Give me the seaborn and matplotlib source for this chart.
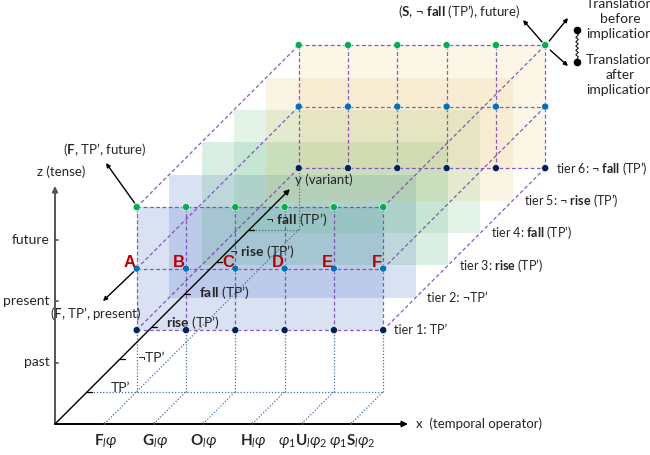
import numpy as np
import pandas as pd
import matplotlib
matplotlib.use("Agg")
import matplotlib.pyplot as plt
import seaborn as sns

# =====================================================
# DATA
# =====================================================

operator_labels = [
    r"$\mathbf{F}_{\mathit{l}}\varphi$",
    r"$\mathbf{G}_{\mathit{l}}\varphi$",
    r"$\mathbf{O}_{\mathit{l}}\varphi$",
    r"$\mathbf{H}_{\mathit{l}}\varphi$",
    r"$\varphi_1\mathbf{U}_{\mathit{l}}\varphi_2$",
    r"$\varphi_1\mathbf{S}_{\mathit{l}}\varphi_2$",
]
point_letters = ["A", "B", "C", "D", "E", "F"]
tenses = ["past", "present", "future"]
variant_labels = [
    "TP’",
    "¬TP’",
    r"$\mathbf{rise}$ (TP’)",
    r"$\mathbf{fall}$ (TP’)",
    r"¬ $\mathbf{rise}$ (TP’)",
    r"¬ $\mathbf{fall}$ (TP’)",
]
tier_labels = [
    "tier 1: TP’",
    "tier 2: ¬TP’",
    r"tier 3: $\mathbf{rise}$ (TP’)",
    r"tier 4: $\mathbf{fall}$ (TP’)",
    r"tier 5: ¬ $\mathbf{rise}$ (TP’)",
    r"tier 6: ¬ $\mathbf{fall}$ (TP’)",
]
face_depths = [1, 6]  # tiers that carry the dots (front and back face)

tense_colors = {"past": "#002060", "present": "#0070c0", "future": "#00b050"}
tier_colors = ["#4472c4", "#4472c4", "#4fae7a", "#6cbf84", "#e3bb4a", "#f2d48a"]
tier_alpha = [0.2, 0.2, 0.2, 0.18, 0.15, 0.2]

# label nudges next to the variant axis (pixels)
variant_nudge = [(23, -4), (18, -1), (14, -4), (14, -2), (12, -10), (16, -10)]

# =====================================================
# OBLIQUE PROJECTION (x = operator, d = variant, z = tense)
# =====================================================

X0, Y0 = 55, 424
UX, UZ, DEP = 49.3, 61.5, 32.4


def proj(x, d, z):
    x = np.asarray(x, dtype=float)
    d = np.asarray(d, dtype=float)
    z = np.asarray(z, dtype=float)
    return X0 + UX * x + DEP * d, Y0 - UZ * z - DEP * d


sns.set_theme(style="white")
plt.rcParams["font.family"] = ["Lato", "DejaVu Sans"]
plt.rcParams["mathtext.fontset"] = "custom"
plt.rcParams["mathtext.rm"] = "Lato"
plt.rcParams["mathtext.it"] = "Lato:italic"
plt.rcParams["mathtext.bf"] = "Lato:bold"

fig = plt.figure(figsize=(6.5, 4.55), dpi=100)
ax = fig.add_axes([0, 0, 1, 1])
ax.set_xlim(0, 650)
ax.set_ylim(455, 0)
ax.axis("off")

n_x = len(operator_labels)
n_d = len(variant_labels)
n_z = len(tenses)
cols = np.arange(1, n_x + 1)

FS = 9.5
purple = "#7b3bb8"
dotted_blue = "#4a6fa8"

# ---------- tier shading ----------
for i in range(n_d):
    d = i + 1
    xa, ya = proj([1, n_x, n_x, 1], [d] * 4, [1, 1, n_z, n_z])
    ax.fill(xa, ya, color=tier_colors[i], alpha=tier_alpha[i], lw=0, zorder=1)

# ---------- purple dashed cube grid ----------
dash = dict(color=purple, lw=0.9, ls=(0, (3, 2)), alpha=0.85, zorder=3)
for d in face_depths:
    for z in range(1, n_z + 1):
        ax.plot(*proj([1, n_x], [d, d], [z, z]), **dash)
    for c in cols:
        ax.plot(*proj([c, c], [d, d], [1, n_z]), **dash)
for c in [1, n_x]:
    for z in range(1, n_z + 1):
        ax.plot(*proj([c, c], face_depths, [z, z]), **dash)

# ---------- blue dotted projection lines ----------
dots = dict(color=dotted_blue, lw=0.9, ls=(0, (1, 1.5)), zorder=2)
front, back = face_depths
for c in cols:
    ax.plot(*proj([c, c], [front, front], [0, 1]), **dots)
    ax.plot(*proj([c, c], [0, front], [0, 0]), **dots)
ax.plot(*proj([0, n_x], [front, front], [0, 0]), **dots)
ax.plot(*proj([1, 1], [front, back], [0, 0]), **dots)
ax.plot(*proj([0, 1], [back, back], [0, 0]), **dots)
ax.plot(*proj([1, 1], [back, back], [0, 1]), **dots)

# ---------- axes ----------
arrow_kw = dict(arrowstyle="-|>", mutation_scale=8, lw=1.4, shrinkA=0, shrinkB=0)
ox, oy = proj(0, 0, 0)
ax.annotate("", xy=(ox, oy - 238), xytext=(ox, oy),
            arrowprops=dict(color="#555555", **arrow_kw), zorder=4)
ax.annotate("", xy=(ox + 353, oy), xytext=(ox, oy),
            arrowprops=dict(color="black", **arrow_kw), zorder=4)
yx, yy = proj(0, 7.25, 0)
ax.annotate("", xy=(yx, yy), xytext=(ox, oy),
            arrowprops=dict(color="black", arrowstyle="-|>", mutation_scale=8,
                            lw=1.0, shrinkA=0, shrinkB=0), zorder=4)

# z ticks
for k, t in enumerate(tenses):
    tx, ty = proj(0, 0, k + 1)
    ax.plot([tx, tx + 3], [ty, ty], color="#555555", lw=1.2, zorder=4)
    ax.text(tx - 5, ty, t, ha="right", va="center", fontsize=FS + 0.5)

# x ticks
for c, lab in zip(cols, operator_labels):
    tx, ty = proj(c, 0, 0)
    ax.plot([tx, tx], [ty, ty - 2.5], color="#555555", lw=0.8, zorder=4)
    ax.text(tx + 1, ty + 17, lab, ha="center", va="center", fontsize=11)

# variant ticks
for k, lab in enumerate(variant_labels):
    tx, ty = proj(0, k + 1, 0)
    ax.plot([tx, tx + 5], [ty, ty], color="black", lw=0.9, zorder=4)
    nx, ny = variant_nudge[k]
    ax.text(tx + nx, ty + ny, lab, ha="left", va="center", fontsize=FS + 0.5, zorder=5)

ax.text(ox - 18, oy - 252, "z (tense)", ha="left", va="center", fontsize=FS)
ax.text(ox + 361, oy, "x  (temporal operator)", ha="left", va="center", fontsize=FS)
ax.text(yx + 5, yy - 9, "y (variant)", ha="left", va="center", fontsize=FS)

# ---------- grid points ----------
rows = []
for d in face_depths:
    for k, t in enumerate(tenses):
        for c in cols:
            sx, sy = proj(c, d, k + 1)
            rows.append({"sx": float(sx), "sy": float(sy), "tense": t})
pts = pd.DataFrame(rows)
sns.scatterplot(data=pts, x="sx", y="sy", hue="tense", palette=tense_colors,
                s=26, linewidth=0.4, edgecolor="white", legend=False, ax=ax,
                zorder=6)

# red letters on the present row of the front face
for c, letter in zip(cols, point_letters):
    px, py = proj(c, front, 2)
    ax.text(px - 1, py - 6, letter, ha="right", va="center", fontsize=12,
            fontweight="bold", color="#c00000", family="Liberation Sans", zorder=7)

# tier labels
for k, lab in enumerate(tier_labels):
    tx, ty = proj(n_x, k + 1, 1)
    ax.text(tx + 11, ty, lab, ha="left", va="center", fontsize=9)

# ---------- annotations ----------
small_arrow = dict(arrowstyle="-|>", mutation_scale=6, lw=1.0, color="black",
                   shrinkA=0, shrinkB=0)
ax.text(105, 150, r"($\mathbf{F}$, TP’, future)", ha="center", va="center", fontsize=FS)
fx, fy = proj(1, front, 3)
ax.annotate("", xy=(106, 163), xytext=(fx - 2, fy - 4), arrowprops=small_arrow)

ax.text(96, 313, r"($\mathbf{F}$, TP’, present)", ha="center", va="center", fontsize=FS)
px, py = proj(1, front, 2)
ax.annotate("", xy=(103, 301), xytext=(px - 3, py + 3), arrowprops=small_arrow)

ax.text(459, 12, r"($\mathbf{S}$, ¬ $\mathbf{fall}$ (TP’), future)",
        ha="center", va="center", fontsize=FS)
bx, by = proj(n_x, back, 3)
ax.annotate("", xy=(523, 20), xytext=(bx - 3, by - 3), arrowprops=small_arrow)
ax.annotate("", xy=(568, 18), xytext=(bx + 4, by - 4), arrowprops=small_arrow)
ax.annotate("", xy=(568, 66), xytext=(bx + 5, by + 5), arrowprops=small_arrow)

# spring between the two translations
sy_top, sy_bot = 30, 62
zz = np.linspace(sy_top + 3, sy_bot - 3, 13)
zx = 577 + np.where(np.arange(13) % 2 == 0, 0, 2.5) - 1.2
zx[0] = zx[-1] = 577
ax.plot(np.r_[577, zx, 577], np.r_[sy_top, zz, sy_bot], color="black", lw=0.7)
ax.scatter([577, 577], [sy_top, sy_bot], s=20, color="black", zorder=6)
ax.text(620, 19, "Translation\nbefore\nimplication", ha="center", va="center",
        fontsize=FS + 0.5, linespacing=1.35)
ax.text(620, 75, "Translation\nafter\nimplication", ha="center", va="center",
        fontsize=FS + 0.5, linespacing=1.35)

plt.savefig("out.png", dpi=100)
